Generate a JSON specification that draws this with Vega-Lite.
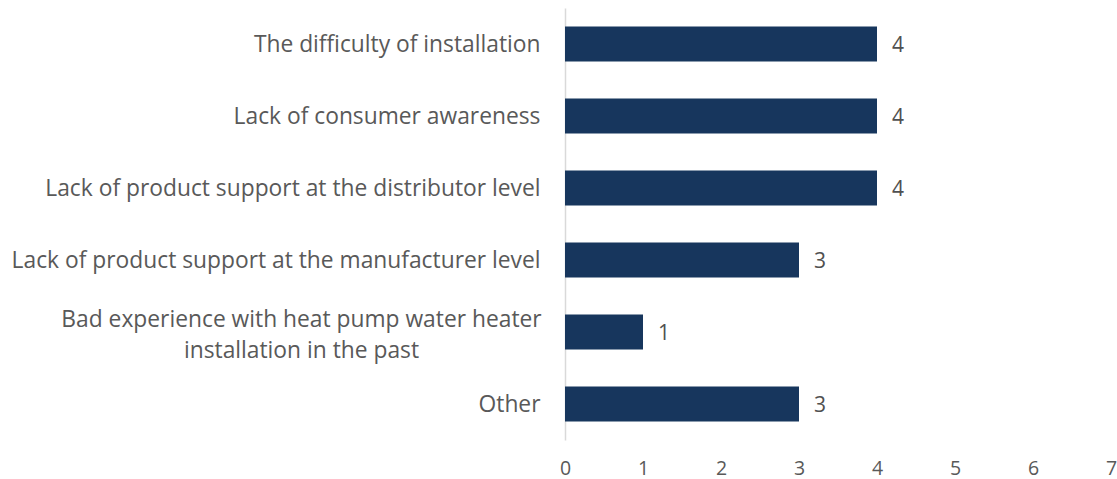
{
  "$schema": "https://vega.github.io/schema/vega-lite/v6.json",
  "autosize": {"type": "none"},
  "padding": {"left": 565, "top": 8, "right": 6, "bottom": 39},
  "width": 546,
  "height": 432,
  "background": "#ffffff",
  "config": {"view": {"stroke": null}, "font": "Open Sans"},
  "data": {"values": [
    {"category": "The difficulty of installation", "value": 4},
    {"category": "Lack of consumer awareness", "value": 4},
    {"category": "Lack of product support at the distributor level", "value": 4},
    {"category": "Lack of product support at the manufacturer level", "value": 3},
    {"category": "Bad experience with heat pump water heater|installation in the past", "value": 1},
    {"category": "Other", "value": 3}
  ]},
  "encoding": {
    "y": {"field": "category", "type": "nominal", "sort": null,
      "scale": {"paddingInner": 0.514, "paddingOuter": 0.257},
      "axis": {"title": null, "ticks": false, "domainColor": "#d9d9d9", "domainWidth": 1.5,
        "labelFont": "Open Sans", "labelFontSize": 22.8, "labelColor": "#595959", "labelLimit": 700,
        "labelExpr": "split(datum.value, '|')", "labelLineHeight": 31,
        "labelAlign": {"condition": {"test": "indexof(datum.value, '|') >= 0", "value": "center"}, "value": "right"},
        "labelPadding": {"condition": {"test": "indexof(datum.value, '|') >= 0", "value": 264}, "value": 25},
        "labelOffset": {"condition": {"test": "indexof(datum.value, '|') >= 0", "value": -12}, "value": 1}
      }
    },
    "x": {"field": "value", "type": "quantitative",
      "scale": {"domain": [0, 7], "nice": false},
      "axis": {"title": null, "grid": false, "domain": false, "ticks": false, "tickCount": 7,
        "labelFont": "Open Sans", "labelFontSize": 19.5, "labelColor": "#595959", "labelPadding": 19, "labelFlush": false}
    }
  },
  "layer": [
    {"mark": {"type": "bar", "color": "#17365d"}},
    {"mark": {"type": "text", "align": "left", "dx": 15, "dy": 2, "fontSize": 21, "color": "#505050", "font": "Open Sans"},
     "encoding": {"text": {"field": "value", "type": "quantitative"}}}
  ]
}
